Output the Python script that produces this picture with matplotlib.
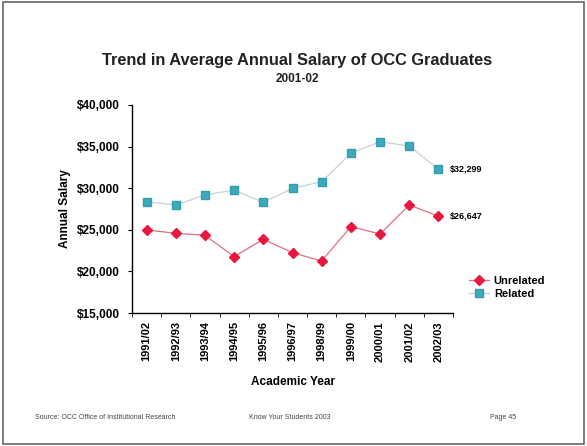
import numpy as np
import matplotlib.pyplot as plt
from matplotlib.patches import Rectangle
from matplotlib.ticker import FuncFormatter

plt.rcParams['font.family'] = ['Liberation Sans', 'DejaVu Sans']

years = ['1991/02', '1992/93', '1993/94', '1994/95', '1995/96', '1996/97',
         '1998/99', '1999/00', '2000/01', '2001/02', '2002/03']
unrelated = [24980, 24580, 24340, 21770, 23860, 22250,
             21250, 25380, 24500, 27980, 26647]
related = [28380, 27980, 29180, 29780, 28300, 29980,
           30780, 34190, 35590, 35070, 32299]

fig = plt.figure(figsize=(5.87, 4.46), dpi=100)
ax = fig.add_axes([0.2249, 0.2982, 0.5468, 0.4664])

x = np.arange(len(years))
ax.plot(x, unrelated, color='#e07080', lw=0.9, marker='D', ms=5.5,
        mfc='#e8173e', mec='#e8173e', label='Unrelated')
ax.plot(x, related, color='#c4d2d6', lw=0.9, marker='s', ms=5.5,
        mfc='#3fa9b9', mec='#2f9fb0', label='Related')

# end labels
ax.annotate('${:,}'.format(related[-1]), (x[-1], related[-1]), xytext=(8, 0),
            textcoords='offset points', va='center', fontsize=6.5, fontweight='bold')
ax.annotate('${:,}'.format(unrelated[-1]), (x[-1], unrelated[-1]), xytext=(8, 0),
            textcoords='offset points', va='center', fontsize=6.5, fontweight='bold')

ax.set_xlim(-0.5, len(years) - 0.5)
ax.set_ylim(15000, 40000)
ax.set_yticks(np.arange(15000, 40001, 5000))
ax.yaxis.set_major_formatter(FuncFormatter(lambda v, p: '${:,.0f}'.format(v)))
ax.set_xticks(x)
ax.set_xticklabels(years, rotation=90, fontsize=8, fontweight='bold')
ax.set_xticks(np.arange(-0.5, len(years)), minor=True)
ax.tick_params(axis='x', which='major', length=0, pad=6)
ax.tick_params(axis='x', which='minor', length=3, direction='out')
ax.tick_params(axis='y', labelsize=8.5, length=3, direction='out', pad=6)
for t in ax.get_yticklabels():
    t.set_fontweight('bold')

for s in ['top', 'right']:
    ax.spines[s].set_visible(False)
ax.spines['left'].set_linewidth(1.0)
ax.spines['bottom'].set_linewidth(1.0)

ax.set_xlabel('Academic Year', fontsize=8.5, fontweight='bold', labelpad=10)
ax.set_ylabel('Annual Salary', fontsize=8.5, fontweight='bold', labelpad=4)

ax.legend(loc='lower left', bbox_to_anchor=(1.02, 0.02), frameon=False,
          prop={'weight': 'bold', 'size': 8}, handlelength=1.8,
          handletextpad=0.4, labelspacing=0.3)

fig.text(0.506, 0.865, 'Trend in Average Annual Salary of OCC Graduates',
         ha='center', va='center', fontsize=11.8, fontweight='bold', color='#222222')
fig.text(0.506, 0.823, '2001-02', ha='center', va='center', fontsize=8.5,
         fontweight='bold', color='#222222')

fig.text(0.06, 0.063, 'Source: OCC Office of Institutional Research', fontsize=5,
         va='center', color='#444444')
fig.text(0.425, 0.063, 'Know Your Students 2003', fontsize=5, va='center',
         color='#444444')
fig.text(0.835, 0.063, 'Page 45', fontsize=5, va='center', color='#444444')

fig.patches.append(Rectangle((0.005, 0.005), 0.99, 0.99, transform=fig.transFigure,
                             fill=False, ec='#666666', lw=1.2))

fig.savefig('out.png', dpi=100)
